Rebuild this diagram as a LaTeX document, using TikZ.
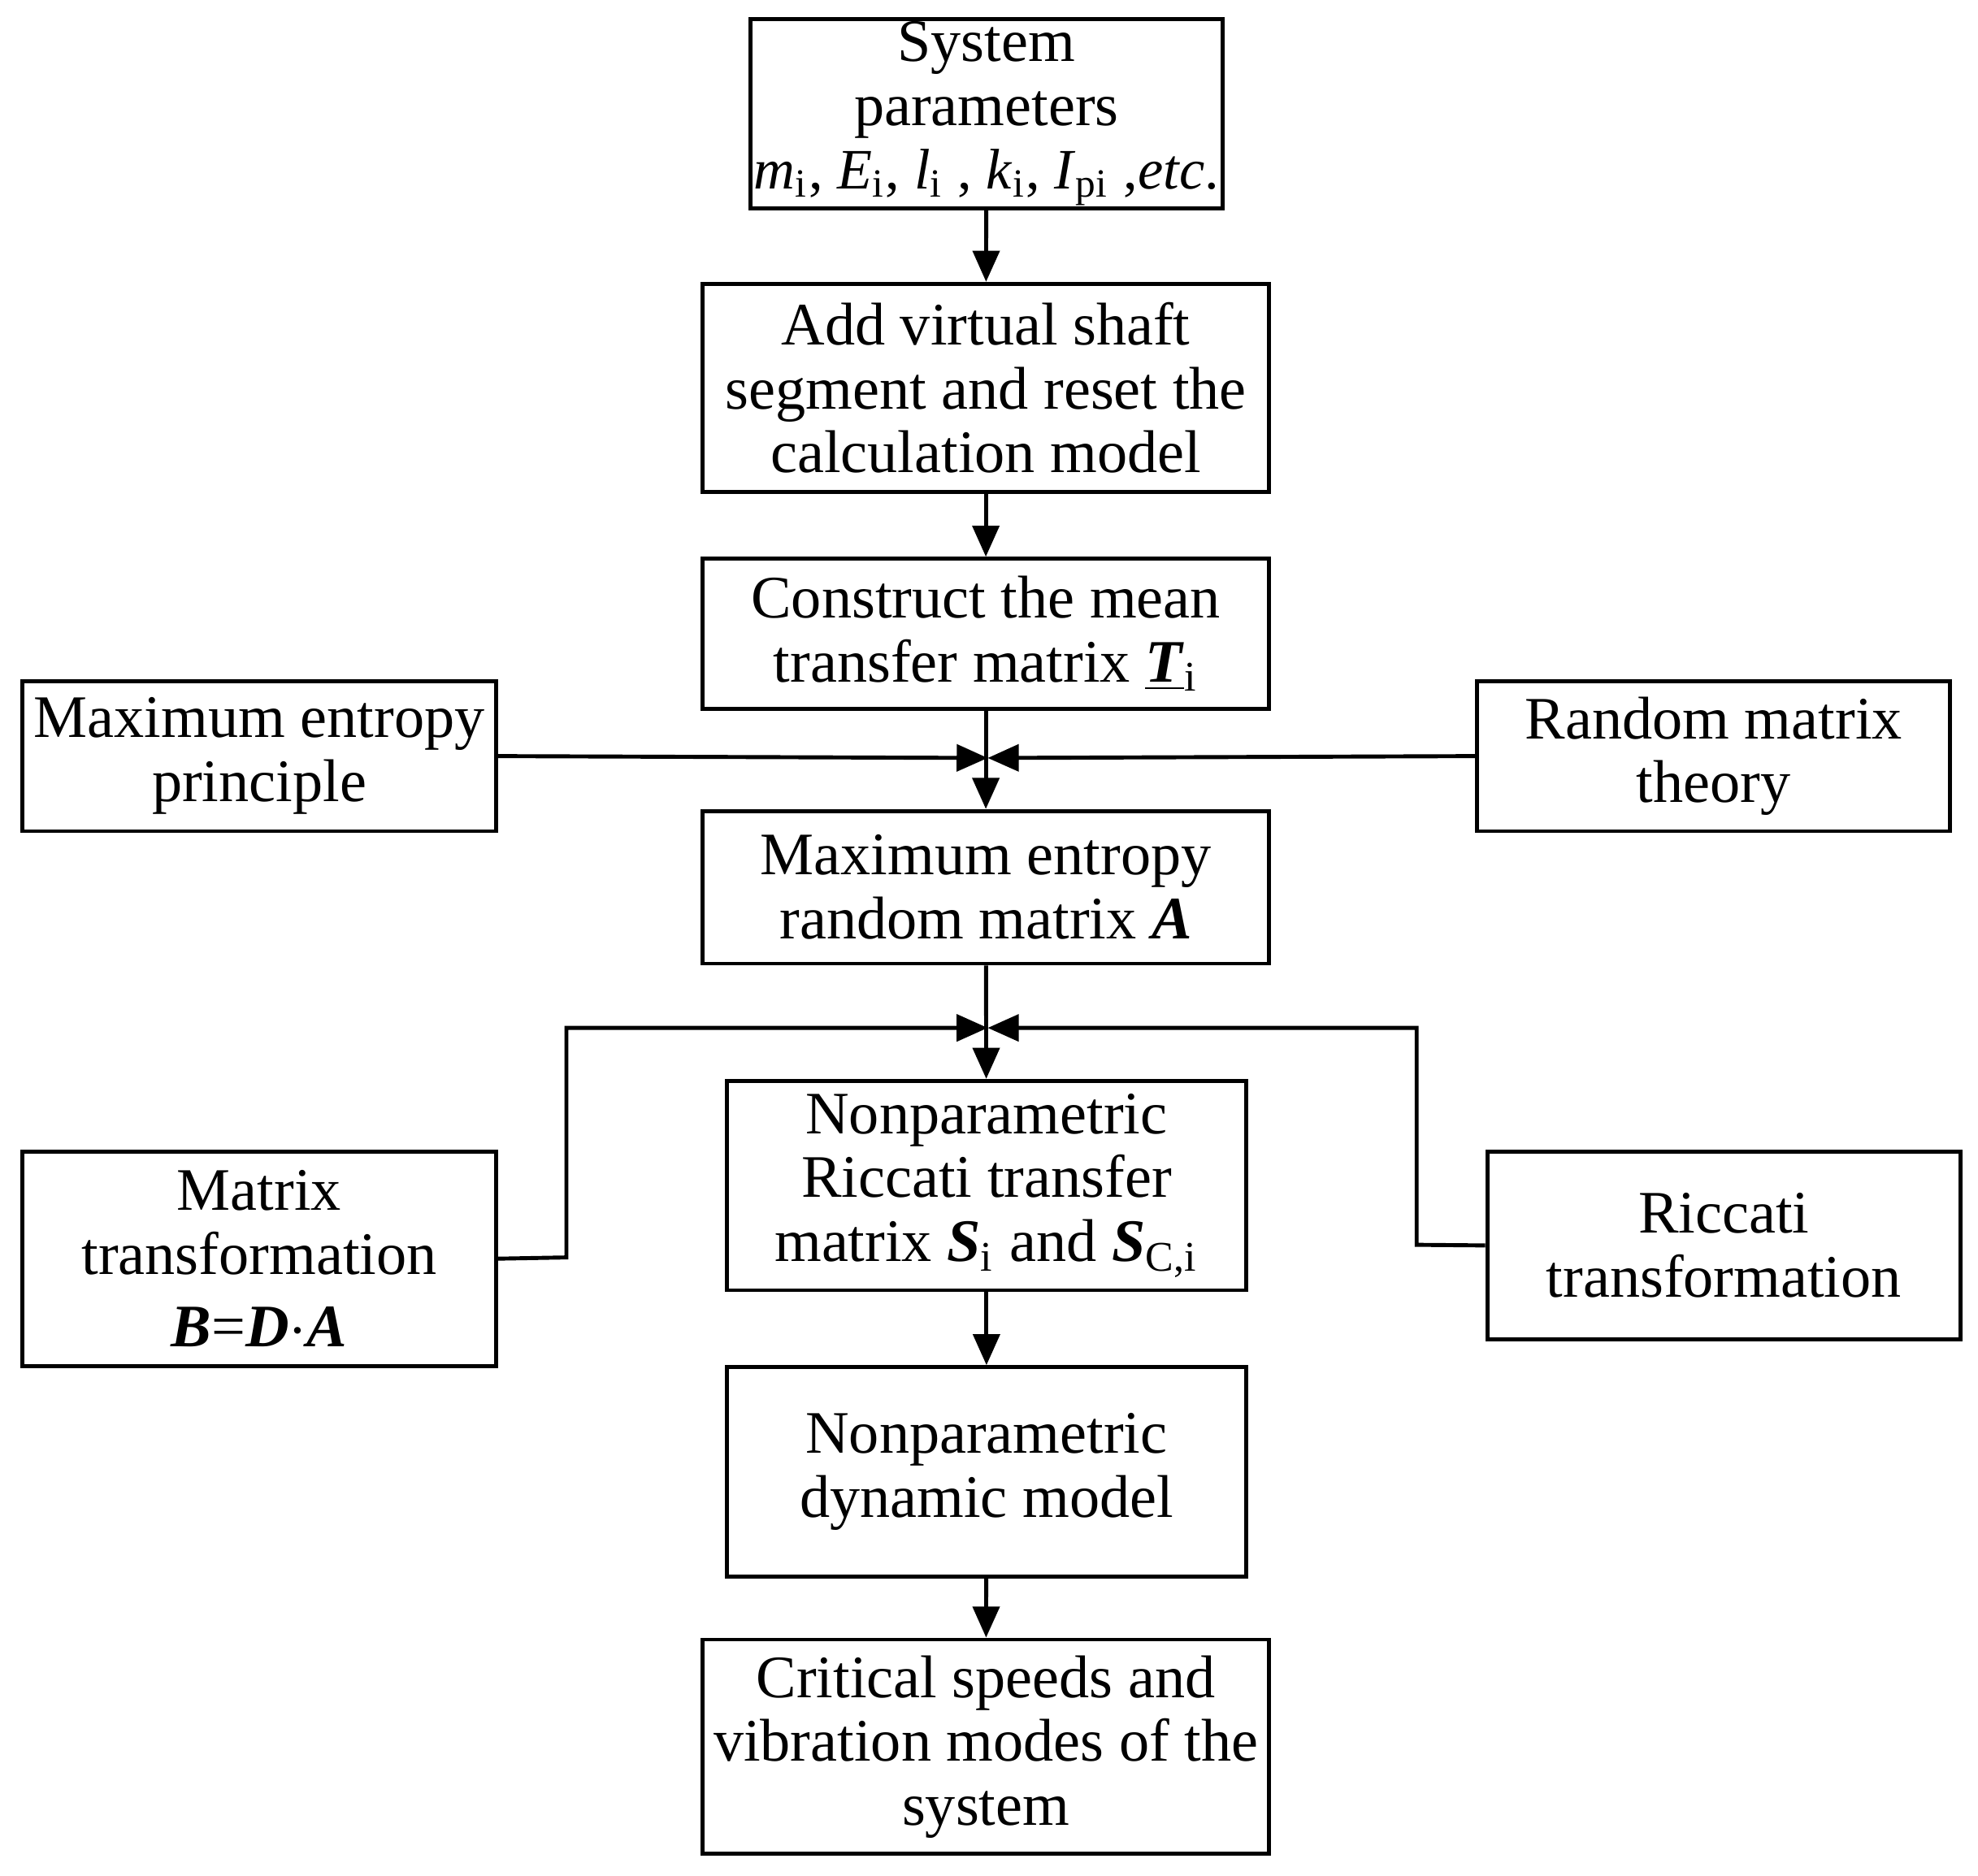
\documentclass[tikz,border=0pt]{standalone}
\usepackage{fontspec}
\setmainfont{Liberation Serif}
\usetikzlibrary{arrows.meta}
\newcommand{\sbx}[1]{\textsubscript{#1}}
\newcommand{\bi}[1]{\textbf{\textit{#1}}}
\begin{document}
\begin{tikzpicture}[x=0.01cm,y=-0.01cm,
  box/.style={draw,line width=0.9pt,align=center,inner sep=0pt,font=\fontsize{13.6}{14.4}\selectfont},
  arr/.style={line width=0.9pt,-{Triangle[length=7pt,width=6pt]}},
  ln/.style={line width=0.9pt}]
\useasboundingbox (0,0) rectangle (1568,1487);
\newcommand{\bx}[6]{\node[box,minimum width={(#4-#2)*0.01cm},minimum height={(#5-#3)*0.01cm}] (#1) at ({(#2+#4)/2},{(#3+#5)/2}) {#6};}
\bx{b1}{595}{15}{969}{165}{System\\parameters\\{\fontsize{12.9}{14.4}\selectfont\textit{m}\sbx{i}, \textit{E}\sbx{i}, \textit{l}\sbx{i} , \textit{k}\sbx{i}, \textit{I}\sbx{pi} ,\textit{etc}.}}
\bx{b2}{557}{225}{1006}{390}{Add virtual shaft\\segment and reset the\\calculation model}
\bx{b3}{557}{443}{1006}{562}{Construct the mean\\transfer matrix \underline{\bi{T}}\sbx{i}}
\bx{l1}{18}{540}{393}{659}{Maximum entropy\\principle}
\bx{r1}{1171}{540}{1546}{659}{Random matrix\\theory}
\bx{b4}{557}{643}{1006}{764}{Maximum entropy\\random matrix \bi{A}}
\bx{b5}{576}{857}{988}{1023}{Nonparametric\\Riccati transfer\\matrix \bi{S}\sbx{i} and \bi{S}\textsubscript{C,i}}
\bx{l2}{18}{913}{393}{1083}{Matrix\\transformation\\[2pt]\bi{B}=\bi{D}$\cdot$\bi{A}}
\bx{r2}{1179}{913}{1554}{1062}{Riccati\\transformation}
\bx{b6}{576}{1084}{988}{1250}{Nonparametric\\dynamic model}
\bx{b7}{557}{1300}{1006}{1470}{Critical speeds and\\vibration modes of the\\system}
\coordinate (j1) at (783,601);
\coordinate (j2) at (783,815);
\draw[arr] (b1) -- (b2);
\draw[arr] (b2) -- (b3);
\draw[arr] (b3) -- (b4);
\draw[arr] (b4) -- (b5);
\draw[arr] (b5) -- (b6);
\draw[arr] (b6) -- (b7);
\draw[arr] (l1.east) -- (j1);
\draw[arr] (r1.west) -- (j1);
\draw[arr] (l2.east) -- (449,997) |- (j2);
\draw[arr] (r2.west) -- (1123,987) |- (j2);
\end{tikzpicture}
\end{document}
